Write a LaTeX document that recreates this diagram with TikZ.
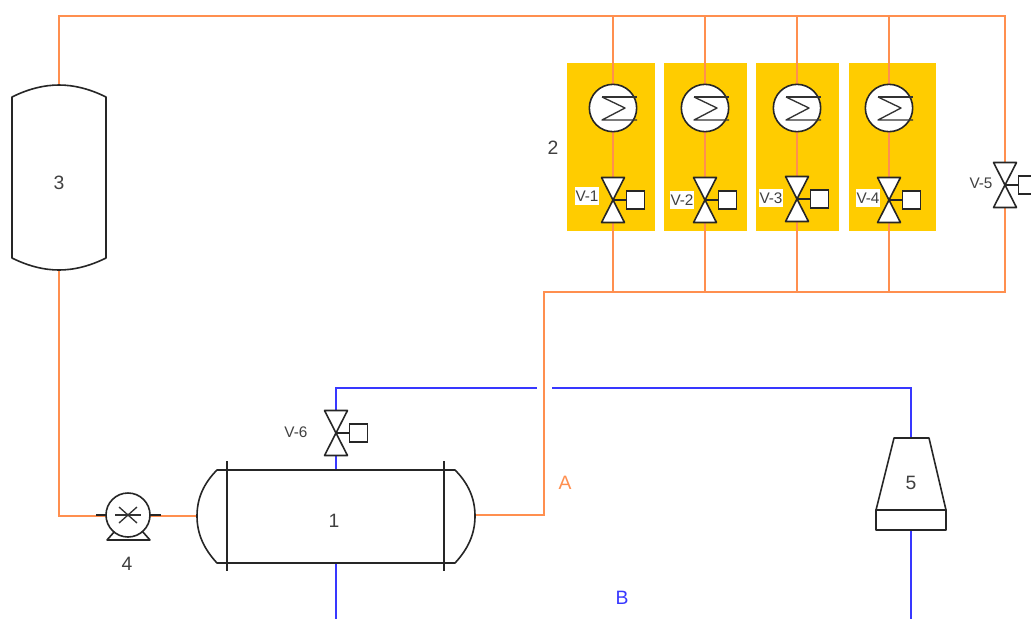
\documentclass[tikz,border=0pt]{standalone}
\usepackage{fontspec}
\setmainfont{Liberation Sans}
\definecolor{pipeo}{HTML}{FF8F4F}
\definecolor{pipeb}{HTML}{3838FF}
\definecolor{panel}{HTML}{FFCC00}
\definecolor{txt}{HTML}{404040}
\tikzset{
  orangepipe/.style={draw=pipeo,line width=1.6pt},
  bluepipe/.style={draw=pipeb,line width=1.5pt},
  sym/.style={draw=black!85,line width=1.2pt,line join=round},
  symthin/.style={draw=black!80,line width=1pt,line join=round},
  panelbox/.style={fill=panel,draw=none},
  big/.style={text=txt,font=\fontsize{14.5}{16}\selectfont,inner sep=0pt},
  small/.style={text=txt,font=\fontsize{11.5}{13}\selectfont,inner sep=0pt},
  vtag/.style={small,fill=white,minimum width=18pt,minimum height=13.5pt},
  hxc/.style={circle,draw=black!85,line width=1.2pt,fill=white,minimum size=35.5pt,inner sep=0pt},
  actbox/.style={rectangle,draw=black!85,line width=1.2pt,fill=white,minimum size=13.5pt,inner sep=0pt},
}
\newcommand{\hxsym}[3]{%
  \node[hxc] (#1) at (#2,#3) {};
  \draw[symthin] (#2-11,#3-11) -- (#2+24,#3-11);
  \draw[symthin] (#2-11,#3-11) -- (#2+12,#3) -- (#2-11,#3+12) -- (#2+24,#3+12);
}
\newcommand{\valvesym}[3]{%
  \coordinate (#1) at (#2,#3);
  \node[actbox] (#1a) at (#2+22.5,#3) {};
  \draw[sym] (#1) -- (#1a);
  \draw[sym,fill=white] (#2-11.5,#3-22.5) -- (#2+11.5,#3-22.5) -- (#2,#3) -- cycle;
  \draw[sym,fill=white] (#2-11.5,#3+22.5) -- (#2+11.5,#3+22.5) -- (#2,#3) -- cycle;
}
\begin{document}
\begin{tikzpicture}[x=0.75pt,y=-0.75pt]
\clip (0,0) rectangle (1031,619);
\fill[white] (0,0) rectangle (1031,619);
% panels
\fill[panelbox] (567,63) rectangle (655,231);
\fill[panelbox] (664,63) rectangle (747,231);
\fill[panelbox] (756,63) rectangle (839,231);
\fill[panelbox] (849,63) rectangle (936,231);
% junctions
\coordinate (tl) at (59,16);
\coordinate (tr) at (1005,16);
\coordinate (t1) at (613,16);
\coordinate (t2) at (705,16);
\coordinate (t3) at (797,16);
\coordinate (t4) at (889,16);
\coordinate (b1) at (613,292);
\coordinate (b2) at (705,292);
\coordinate (b3) at (797,292);
\coordinate (b4) at (889,292);
\coordinate (br) at (1005,292);
\coordinate (bl) at (544,292);
\coordinate (el) at (544,515);
\coordinate (v3top) at (59,85);
\coordinate (v3bot) at (59,270);
\coordinate (pc) at (59,516);
\coordinate (p4) at (128,516);
\coordinate (v1l) at (197,516);
\coordinate (v1r) at (475,515);
\coordinate (v1t) at (336,470);
\coordinate (v1b) at (336,563);
\coordinate (v1bb) at (336,619);
\coordinate (bc1) at (336,388);
\coordinate (gapl) at (537,388);
\coordinate (gapr) at (552,388);
\coordinate (bc2) at (911,388);
\coordinate (p5t) at (911,438);
\coordinate (p5b) at (911,530);
\coordinate (p5bb) at (911,619);
% pipes
\draw[orangepipe] (v3top) -- (tl) -- (tr) -- (br) -- (bl) -- (el) -- (v1r);
\foreach \a/\b in {t1/b1,t2/b2,t3/b3,t4/b4}{\draw[orangepipe] (\a) -- (\b);}
\draw[orangepipe] (v3bot) -- (pc) -- (p4) -- (v1l);
\draw[bluepipe] (v1t) -- (bc1) -- (gapl);
\draw[bluepipe] (gapr) -- (bc2) -- (p5t);
\draw[bluepipe] (v1b) -- (v1bb);
\draw[bluepipe] (p5b) -- (p5bb);
% exchangers and valves
\hxsym{h1}{613}{108}
\hxsym{h2}{705}{108}
\hxsym{h3}{797}{108}
\hxsym{h4}{889}{108}
\valvesym{va}{613}{200}
\valvesym{vb}{705}{200}
\valvesym{vc}{797}{199}
\valvesym{vd}{889}{200}
\valvesym{ve}{1005}{185}
\valvesym{vf}{336}{433}
% vessel 3
\draw[sym,fill=white] (12,97) .. controls (28,89) and (44,85) .. (59,85) .. controls (74,85) and (90,89) .. (106,97)
  -- (106,258) .. controls (90,266) and (74,270) .. (59,270) .. controls (44,270) and (28,266) .. (12,258) -- cycle;
% vessel 1
\draw[sym,fill=white] (217,470) -- (455,470) .. controls (468,483) and (475,498) .. (475,516)
  .. controls (475,534) and (468,549) .. (455,563) -- (217,563)
  .. controls (204,549) and (197,534) .. (197,516) .. controls (197,498) and (204,483) .. (217,470) -- cycle;
\draw[sym] (227,461) -- (227,571);
\draw[sym] (444,461) -- (444,571);
% pump 4
\draw[sym] (96,515) -- (161,515);
\draw[sym] (115,531) -- (107,540) -- (150,540) -- (142,531);
\node[circle,draw=black!85,line width=1.2pt,fill=white,minimum size=33pt,inner sep=0pt] (pumpc) at (128,515) {};
\draw[symthin] (115,515) -- (141,515);
\draw[symthin] (119,507) -- (137,523);
\draw[symthin] (137,507) -- (119,523);
% pump 5
\draw[sym,fill=white] (894,438) -- (929,438) -- (946,510) -- (876,510) -- cycle;
\draw[sym,fill=white] (876,510) rectangle (946,530);
% labels
\node[big] (l1) at (334,521) {1};
\node[big] (l2) at (553,148) {2};
\node[big] (l3) at (59,183) {3};
\node[big] (l4) at (127,564) {4};
\node[big] (l5) at (911,483) {5};
\node[big,text=pipeo] (la) at (565,483) {A};
\node[big,text=pipeb] (lb) at (622,598) {B};
\node[vtag] (n1) at (587,196) {V-1};
\node[vtag] (n2) at (682,200) {V-2};
\node[vtag] (n3) at (771,198) {V-3};
\node[vtag] (n4) at (868,198) {V-4};
\node[small] (n5) at (981,183) {V-5};
\node[small] (n6) at (296,432) {V-6};
\end{tikzpicture}
\end{document}
